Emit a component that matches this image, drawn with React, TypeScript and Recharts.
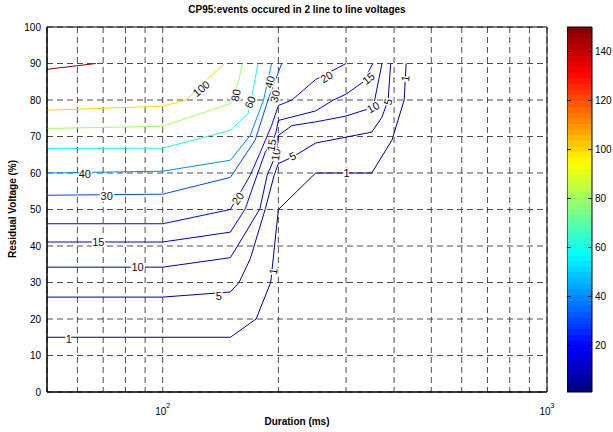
import {
  ComposedChart,
  Line,
  XAxis,
  YAxis,
  CartesianGrid,
  ReferenceDot,
  ReferenceArea,
  BarChart,
  Bar,
} from 'recharts';

/* ================= DATA ================= */
// contour paths: [duration (ms), residual voltage (%)]
const contour1 = [[50, 15], [150, 15], [175, 20], [191, 30], [200, 50], [250, 60], [350, 60], [395, 69], [425, 80], [430, 90]];
const contour5 = [[50, 26], [100, 26], [150, 27.4], [158, 30], [169, 36.5], [185, 50.2], [195, 59.4], [200, 62.6], [218, 64.4], [250, 68.2], [350, 71.2], [372, 75.3], [386, 80], [392, 90]];
const contour10 = [[50, 34.2], [100, 34.2], [150, 36.8], [157, 40.2], [179, 50.2], [187, 59.4], [197, 65], [200, 70.3], [217, 73], [250, 74], [300, 75.6], [353, 78], [372, 90]];
const contour15 = [[50, 41.1], [100, 41.1], [150, 43.8], [164, 50.2], [176, 59.4], [185, 65.8], [192, 68], [197, 71], [200, 74.4], [250, 77], [278, 80], [300, 81.6], [333, 85], [352, 90]];
const contour20 = [[50, 46.1], [100, 46.1], [150, 50], [169, 59.4], [180, 66], [192, 73], [200, 78.5], [217, 80], [250, 85.6], [300, 90]];
const contour30 = [[50, 53.9], [100, 54.2], [150, 58.8], [174, 69], [188, 80], [204, 90]];
const contour40 = [[50, 60], [100, 60.5], [150, 63.5], [169, 70.3], [183, 80], [192, 90]];
const contour60 = [[50, 66.7], [100, 66.8], [150, 71.7], [167, 76.3], [172, 83], [177, 90]];
const contour80 = [[50, 72.2], [100, 72.8], [150, 79], [158, 85.5], [161, 90]];
const contour100 = [[50, 77.2], [100, 78.3], [115, 80], [130, 85.5], [145, 90]];
const contour150 = [[50, 88.4], [67, 90]];

const levels = [1, 5, 10, 15, 20, 30, 40, 60, 80, 100, 150];
const contourPaths = [contour1, contour5, contour10, contour15, contour20, contour30, contour40, contour60, contour80, contour100, contour150];

// inline contour labels: text and where it sits [duration, voltage]
const labelTexts = ['1', '1', '1', '1', '5', '5', '5', '10', '10', '10', '15', '15', '15', '20', '20', '30', '30', '40', '40', '60', '80', '100'];
const labelPoints = [
  [57, 14.6], [194, 33], [301, 60], [428, 85.9],
  [140, 26.3], [218, 64.6], [386, 79.5],
  [86, 34.2], [197, 65], [353, 78],
  [68, 41.1], [192, 67.6], [343, 85.9],
  [157, 53], [267, 86.3],
  [71.5, 53.6], [196, 81],
  [62.7, 59.8], [190, 84.9],
  [169, 79.4], [155, 81.3], [126, 83.1],
];
const labelAngles = [0, -82, 0, -82, 0, -25, -75, 0, -82, -30, 0, -82, -40, -55, -30, 0, -75, 0, -75, -68, -80, -40];

const xTicks = [60, 70, 80, 90, 100, 200, 300, 400, 500, 600, 700, 800, 900, 1000];
const yTicks = [0, 10, 20, 30, 40, 50, 60, 70, 80, 90, 100];
const colorMin = 1;
const colorMax = 150;
const colorbarTicks = [20, 40, 60, 80, 100, 120, 140];
const colorbarData = [{ name: 'cb', value: colorMax }];

/* ================= HELPERS ================= */
const FONT = '"Liberation Sans", Arial, Helvetica, sans-serif';

const jet = (t: number) => {
  const c = (v: number) => Math.round(255 * Math.max(0, Math.min(1, v)));
  const r = c(Math.min(4 * t - 1.5, -4 * t + 4.5));
  const g = c(Math.min(4 * t - 0.5, -4 * t + 3.5));
  const b = c(Math.min(4 * t + 0.5, -4 * t + 2.5));
  return `rgb(${r},${g},${b})`;
};

const levelColor = (v: number) => jet((v - colorMin) / (colorMax - colorMin));

// 64-step jet like matlab's colormap
const jetStops: { off: number; color: string }[] = [];
for (let i = 0; i < 64; i++) {
  const col = jet((i + 0.5) / 64);
  jetStops.push({ off: i / 64, color: col });
  jetStops.push({ off: (i + 1) / 64, color: col });
}

const XTick = (props: any) => {
  const { x, y, payload } = props;
  const e = Math.log10(payload.value);
  if (Math.abs(e - Math.round(e)) > 1e-9) return <g />;
  return (
    <text x={x} y={y + 21} textAnchor="middle" fontSize={10} fontFamily={FONT} fill="#000">
      <tspan>10</tspan>
      <tspan dy={-7} fontSize={7}>{Math.round(e)}</tspan>
    </text>
  );
};

const ContourLabel = (props: any) => {
  const { viewBox, text, rot } = props;
  const cx = viewBox.x + (viewBox.width || 0) / 2;
  const cy = viewBox.y + (viewBox.height || 0) / 2;
  return (
    <g transform={`translate(${cx} ${cy}) rotate(${rot})`}>
      <text
        x={0}
        y={0}
        dy="0.35em"
        textAnchor="middle"
        fontSize={11}
        fontFamily={FONT}
        fill="#111"
        stroke="#fff"
        strokeWidth={3}
        paintOrder="stroke"
      >
        {text}
      </text>
    </g>
  );
};

const CbTick = (props: any) => {
  const { x, y, payload } = props;
  return (
    <g>
      <line x1={x - 7} x2={x - 3} y1={y} y2={y} stroke="#000" />
      <line x1={x - 28} x2={x - 24} y1={y} y2={y} stroke="#000" />
      <text x={x} y={y} dy="0.35em" fontSize={10} fontFamily={FONT} fill="#000">
        {payload.value}
      </text>
    </g>
  );
};

/* ================= COMPONENT ================= */
export default function App() {
  return (
    <div style={{ position: 'absolute', left: 0, top: 0, width: 613, height: 432, background: '#fff', fontFamily: FONT }}>
      <div style={{ position: 'absolute', left: 47, top: 4, width: 500, textAlign: 'center', fontSize: 10, fontWeight: 'bold' }}>
        CP95:events occured in 2 line to line voltages
      </div>
      <div style={{ position: 'absolute', left: 47, top: 416, width: 500, textAlign: 'center', fontSize: 10, fontWeight: 'bold' }}>
        Duration (ms)
      </div>
      <div
        style={{
          position: 'absolute',
          left: 12,
          top: 209,
          transform: 'translate(-50%, -50%) rotate(-90deg)',
          whiteSpace: 'nowrap',
          fontSize: 10,
          fontWeight: 'bold',
        }}
      >
        Residual Voltage (%)
      </div>

      <div style={{ position: 'absolute', left: 0, top: 0 }}>
        <ComposedChart width={613} height={432} margin={{ top: 27, right: 66, bottom: 0, left: 0 }}>
          <CartesianGrid stroke="#222" strokeDasharray="6 4" strokeWidth={0.8} />
          <XAxis
            type="number"
            dataKey="x"
            scale="log"
            domain={[50, 1000]}
            allowDataOverflow
            ticks={xTicks}
            interval={0}
            height={40}
            tickSize={0}
            tickLine={false}
            tick={<XTick />}
            axisLine={{ stroke: '#000' }}
          />
          <YAxis
            type="number"
            domain={[0, 100]}
            ticks={yTicks}
            interval={0}
            width={47}
            tickSize={0}
            tickMargin={6}
            tickLine={false}
            tick={{ fontSize: 10, fill: '#000', fontFamily: FONT }}
            axisLine={{ stroke: '#000' }}
          />
          <ReferenceArea x1={50} x2={1000} y1={0} y2={100} fill="none" stroke="#000" ifOverflow="visible" />
          {contourPaths.map((pts, i) => (
            <Line
              key={levels[i]}
              data={pts.map(([x, y]) => ({ x, y }))}
              dataKey="y"
              type="linear"
              stroke={levelColor(levels[i])}
              strokeWidth={1}
              dot={false}
              activeDot={false}
              isAnimationActive={false}
            />
          ))}
          {labelPoints.map(([x, y], i) => (
            <ReferenceDot
              key={`lbl-${i}`}
              x={x}
              y={y}
              r={0}
              fill="none"
              stroke="none"
              label={<ContourLabel text={labelTexts[i]} rot={labelAngles[i]} />}
            />
          ))}
        </ComposedChart>
      </div>

      <div style={{ position: 'absolute', left: 567, top: 0 }}>
        <BarChart
          width={46}
          height={432}
          data={colorbarData}
          margin={{ top: 27, right: 0, bottom: 40, left: 0 }}
          barCategoryGap={0}
        >
          <defs>
            <linearGradient id="jetGrad" x1="0" y1="1" x2="0" y2="0">
              {jetStops.map((s, i) => (
                <stop key={i} offset={s.off} stopColor={s.color} />
              ))}
            </linearGradient>
          </defs>
          <XAxis dataKey="name" hide />
          <YAxis
            orientation="right"
            type="number"
            domain={[colorMin, colorMax]}
            ticks={colorbarTicks}
            interval={0}
            width={21}
            tickSize={0}
            tickMargin={3}
            tickLine={false}
            axisLine={false}
            tick={<CbTick />}
          />
          <Bar dataKey="value" fill="url(#jetGrad)" stroke="#000" strokeWidth={1} isAnimationActive={false} />
        </BarChart>
      </div>
    </div>
  );
}
